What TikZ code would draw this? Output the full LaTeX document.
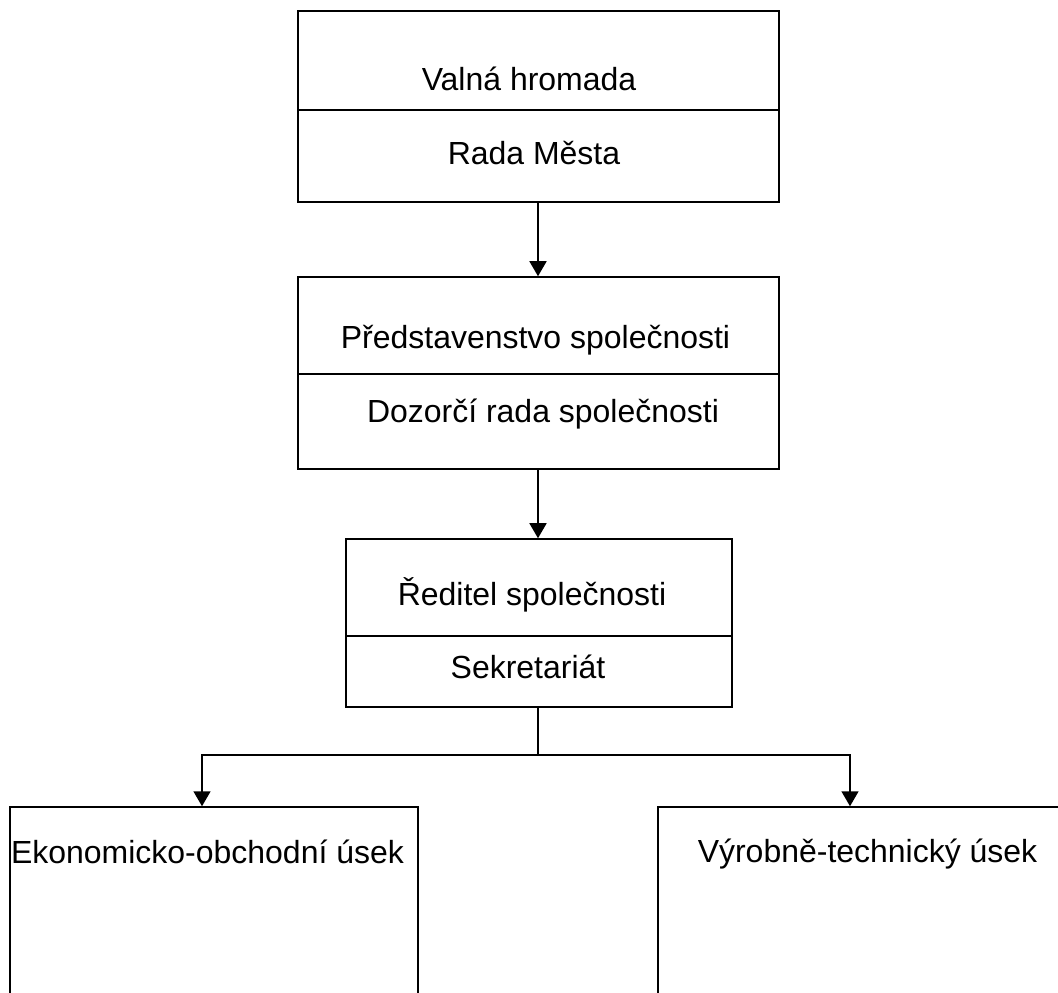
\documentclass[tikz,border=0pt]{standalone}
\usepackage{fontspec}
\setmainfont{Liberation Sans}
\usetikzlibrary{arrows.meta,positioning}

\begin{document}
\begin{tikzpicture}[x=0.02cm,y=-0.02cm,line width=0.9pt,
	box/.style = {draw, rectangle, inner sep=0pt},
	lbl/.style = {inner sep=0pt, anchor=base, font=\fontsize{18.2}{22}\selectfont},
	arr/.style = {-{Triangle[length=0.3cm,width=0.34cm]}}]
	\clip (0,0) rectangle (1058,992);
	% boxes
	\node[box,minimum width=9.62cm,minimum height=3.826cm] (top) at (538.5,106.35) {};
	\node[box,minimum width=9.62cm,minimum height=3.84cm] (board) at (538.5,373) {};
	\node[box,minimum width=7.72cm,minimum height=3.36cm] (director) at (539,623) {};
	\node[box,minimum width=8.16cm,minimum height=4.06cm] (econ) at (214,908.5) {};
	\node[box,minimum width=8.24cm,minimum height=4.06cm] (tech) at (864,908.5) {};
	\draw (top.west |- 0,109.7) -- (top.east |- 0,109.7);
	\draw (board.west |- 0,374) -- (board.east |- 0,374);
	\draw (director.west |- 0,636) -- (director.east |- 0,636);
	% texts
	\node[lbl] (valna) at (529,90) {Valná hromada};
	\node[lbl] (rada) at (534,164) {Rada Města};
	\node[lbl] (predst) at (535.5,348) {Představenstvo společnosti};
	\node[lbl] (dozor) at (543,422) {Dozorčí rada společnosti};
	\node[lbl] (reditel) at (532,605) {Ředitel společnosti};
	\node[lbl] (sekret) at (528,678) {Sekretariát};
	\node[lbl] (ekon) at (207.5,863) {Ekonomicko-obchodní úsek};
	\node[lbl] (vyrob) at (867.5,862) {Výrobně-technický úsek};
	% connectors
	\coordinate (split) at (538,755);
	\coordinate (eleft) at (202,755);
	\coordinate (tright) at (850,755);
	\draw[arr] (top.south -| 538,0) -- (board.north -| 538,0);
	\draw[arr] (board.south -| 538,0) -- (director.north -| 538,0);
	\draw (director.south -| split) -- (split);
	\draw[arr] (split) -- (eleft) -- (eleft |- econ.north);
	\draw[arr] (split) -- (tright) -- (tright |- tech.north);
\end{tikzpicture}
\end{document}
